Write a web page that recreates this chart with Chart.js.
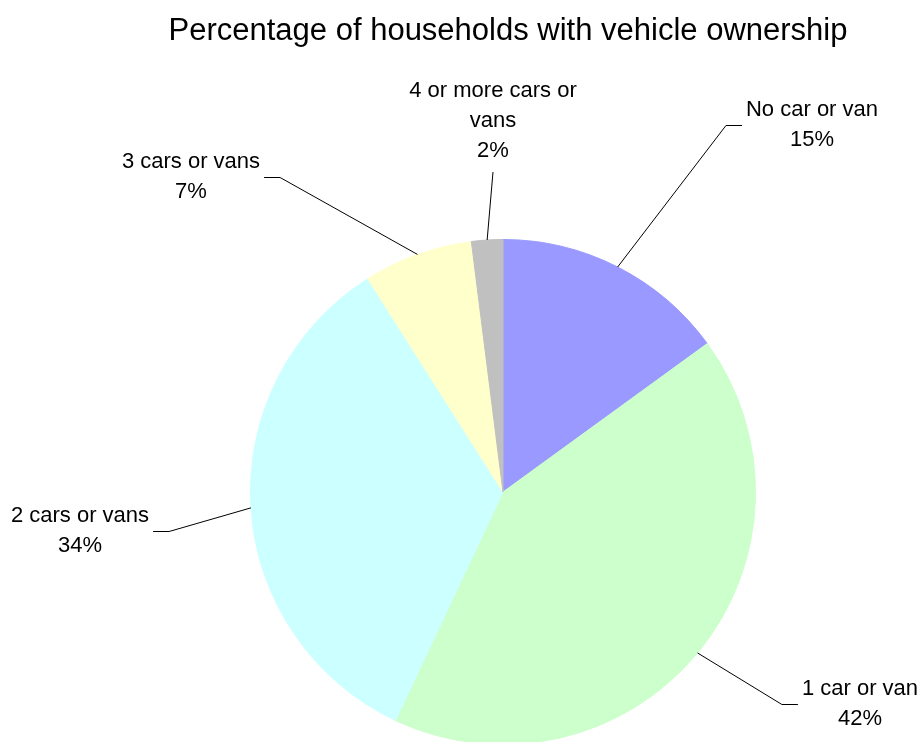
<!DOCTYPE html>
<html>
<head>
<meta charset="utf-8">
<title>Percentage of households with vehicle ownership</title>
<script src="https://cdn.jsdelivr.net/npm/chart.js@4/dist/chart.umd.min.js"></script>
<style>
  html, body { margin: 0; padding: 0; background: #fff; overflow: hidden; }
  #wrap { position: relative; width: 922px; height: 760px; }
</style>
</head>
<body>
<div id="wrap"><canvas id="chart"></canvas></div>
<script>
// Households by number of cars or vans (percent)
const categories = ['No car or van', '1 car or van', '2 cars or vans', '3 cars or vans', '4 or more cars or vans'];
const shares = [15, 42, 34, 7, 2];
const chartTitle = 'Percentage of households with vehicle ownership';

// Slice fills
const sliceColors = ['#9999FF', '#CCFFCC', '#CCFFFF', '#FFFFCC', '#C0C0C0'];

// Where each label block sits, relative to the pie centre (px)
const labelOffsets = [[309, -367], [357, 212], [-423, 39], [-312, -315], [-10, -371]];

const FONT = '"Liberation Sans", Arial, Helvetica, sans-serif';
const LINE_H = 30;
const WRAP_W = 175;

function wrapText(ctx, text, maxW) {
  const words = text.split(' ');
  const out = [];
  let cur = '';
  for (const w of words) {
    const test = cur ? cur + ' ' + w : w;
    if (cur && ctx.measureText(test).width > maxW) {
      out.push(cur);
      cur = w;
    } else {
      cur = test;
    }
  }
  if (cur) out.push(cur);
  return out;
}

// Heading, drawn across the full canvas width above the pie
const headingPlugin = {
  id: 'heading',
  afterDraw(chart) {
    const ctx = chart.ctx;
    ctx.save();
    ctx.font = '31px ' + FONT;
    ctx.fillStyle = '#000';
    ctx.textAlign = 'center';
    ctx.textBaseline = 'alphabetic';
    ctx.fillText(chartTitle, 508, 40);
    ctx.restore();
  }
};

// Category / percent labels with leader lines
const sliceLabels = {
  id: 'sliceLabels',
  afterDatasetsDraw(chart) {
    const ctx = chart.ctx;
    const meta = chart.getDatasetMeta(0);
    ctx.save();
    ctx.font = '22px ' + FONT;
    ctx.fillStyle = '#000';
    ctx.strokeStyle = '#000';
    ctx.lineWidth = 1;
    ctx.textAlign = 'center';
    ctx.textBaseline = 'middle';
    meta.data.forEach((arc, i) => {
      const p = arc.getProps(['x', 'y', 'startAngle', 'endAngle', 'outerRadius'], true);
      const mid = (p.startAngle + p.endAngle) / 2;
      const ax = p.x + Math.cos(mid) * p.outerRadius;
      const ay = p.y + Math.sin(mid) * p.outerRadius;
      const lines = wrapText(ctx, categories[i], WRAP_W).concat([shares[i] + '%']);
      const w = Math.max(...lines.map(l => ctx.measureText(l).width));
      const h = lines.length * LINE_H;
      const cx = p.x + labelOffsets[i][0];
      const cy = p.y + labelOffsets[i][1];
      lines.forEach((l, k) => ctx.fillText(l, cx, cy - h / 2 + LINE_H * (k + 0.5)));

      ctx.beginPath();
      ctx.moveTo(ax, ay);
      if (Math.abs(ax - cx) > w / 2) {
        const dir = ax > cx ? 1 : -1;
        const ex = cx + dir * (w / 2 + 4);
        const ly = Math.round(cy) + 0.5;
        ctx.lineTo(ex + dir * 16, ly);
        ctx.lineTo(ex, ly);
      } else {
        const ey = ay < cy ? cy - h / 2 - 6 : cy + h / 2 + 6;
        ctx.lineTo(cx, ey);
      }
      ctx.stroke();
    });
    ctx.restore();
  }
};

new Chart(document.getElementById('chart'), {
  type: 'pie',
  data: {
    labels: categories,
    datasets: [{
      data: shares,
      backgroundColor: sliceColors,
      borderColor: sliceColors,
      borderWidth: 1
    }]
  },
  options: {
    responsive: true,
    maintainAspectRatio: false,
    animation: false,
    layout: { padding: { top: 239, left: 250, right: 166, bottom: 15 } },
    plugins: {
      legend: { display: false },
      tooltip: { enabled: false },
      title: { display: false }
    }
  },
  plugins: [sliceLabels, headingPlugin]
});
</script>
</body>
</html>
